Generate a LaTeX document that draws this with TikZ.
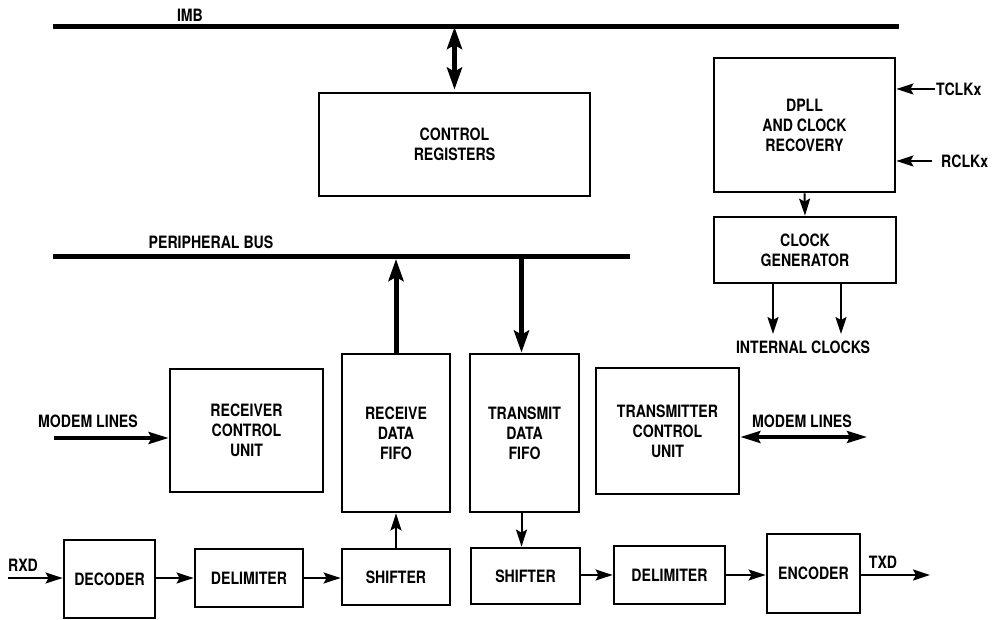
\documentclass[tikz,border=0pt]{standalone}
\usepackage{fontspec}
\setmainfont{TeX Gyre Heros}[FakeStretch=0.83]
\usetikzlibrary{arrows.meta}
\begin{document}
\begin{tikzpicture}[x=1pt,y=-1pt,
  every node/.style={font=\fontsize{17}{20}\selectfont\bfseries, align=center},
  blk/.style={draw, line width=2.8pt, inner sep=0pt},
  lbl/.style={inner sep=1pt},
  bus/.style={line width=5pt},
  thinarr/.style={line width=2pt, -{Stealth[length=17pt,width=11pt,inset=3pt]}},
  midarr/.style={line width=3.5pt, -{Stealth[length=20pt,width=12pt,inset=3pt]}},
  dblarr/.style={line width=3.5pt, {Stealth[length=20pt,width=12pt,inset=3pt]}-{Stealth[length=20pt,width=12pt,inset=3pt]}},
  thickarr/.style={line width=5pt, -{Stealth[length=22pt,width=15pt,inset=4pt]}},
  thickdbl/.style={line width=5pt, {Stealth[length=22pt,width=15pt,inset=4pt]}-{Stealth[length=22pt,width=15pt,inset=4pt]}}
]
\useasboundingbox (0,0) rectangle (996,620);

% buses
\coordinate (imbL) at (53,27);
\coordinate (imbR) at (899,27);
\coordinate (pbL) at (53,257);
\coordinate (pbR) at (630,257);
\draw[bus] (imbL) -- (imbR);
\draw[bus] (pbL) -- (pbR);
\node[lbl] (imb) at (190,15) {IMB};
\node[lbl] (pbus) at (211,242) {PERIPHERAL BUS};

% boxes
\node[blk, minimum width=271, minimum height=103] (cr) at (454.5,144.5) {CONTROL\\REGISTERS};
\node[blk, minimum width=181, minimum height=134] (dpll) at (804.5,125) {DPLL\\AND CLOCK\\RECOVERY};
\node[blk, minimum width=182, minimum height=66] (cg) at (805,250) {CLOCK\\GENERATOR};
\node[blk, minimum width=153, minimum height=123] (rcu) at (246.5,430.5) {RECEIVER\\CONTROL\\UNIT};
\node[blk, minimum width=108, minimum height=158] (rfifo) at (396,433) {RECEIVE\\DATA\\FIFO};
\node[blk, minimum width=109, minimum height=158] (tfifo) at (524.5,433) {TRANSMIT\\DATA\\FIFO};
\node[blk, minimum width=143, minimum height=126] (tcu) at (667.5,431) {TRANSMITTER\\CONTROL\\UNIT};
\node[blk, minimum width=91, minimum height=78] (dec) at (109.5,579) {DECODER};
\node[blk, minimum width=108, minimum height=58] (del1) at (249,578) {DELIMITER};
\node[blk, minimum width=108, minimum height=56] (sh1) at (396,577) {SHIFTER};
\node[blk, minimum width=109, minimum height=56] (sh2) at (525.5,576) {SHIFTER};
\node[blk, minimum width=111, minimum height=58] (del2) at (669.5,575) {DELIMITER};
\node[blk, minimum width=93, minimum height=79] (enc) at (813.5,573.5) {ENCODER};

% bus connections
\draw[thickdbl, shorten <=2pt] (cr.north) -- (cr.north |- imbL);
\draw[thickarr, shorten >=2pt] (rfifo.north) -- (rfifo.north |- pbL);
\draw[thickarr, shorten <=2pt] ([xshift=-3]tfifo.north |- pbL) -- ([xshift=-3]tfifo.north);

% clock section
\node[lbl, anchor=west] (tclk) at (935,89) {TCLKx};
\node[lbl, anchor=west] (rclk) at (940,161) {RCLKx};
\draw[thinarr] (tclk.west) -- (tclk.west -| dpll.east);
\draw[thinarr] ([xshift=-8]rclk.west) -- (rclk.west -| dpll.east);
\draw[thinarr] (dpll.south) -- (cg.north);
\node[lbl] (iclk) at (803,347) {INTERNAL CLOCKS};
\coordinate (ic1) at (773,334);
\coordinate (ic2) at (841,334);
\draw[thinarr] (ic1 |- cg.south) -- (ic1);
\draw[thinarr] (ic2 |- cg.south) -- (ic2);

% modem lines
\node[lbl] (mlL) at (88,421) {MODEM LINES};
\node[lbl] (mlR) at (802,421) {MODEM LINES};
\coordinate (mlLs) at (54,438);
\coordinate (mlRe) at (867,437);
\draw[midarr] (mlLs) -- (mlLs -| rcu.west);
\draw[dblarr] (mlRe -| tcu.east) -- (mlRe);

% data path
\node[lbl] (rxd) at (23,565) {RXD};
\node[lbl] (txd) at (883,562) {TXD};
\coordinate (rxs) at (8,578);
\coordinate (txe) at (930,575);
\draw[thinarr] (rxs) -- (rxs -| dec.west);
\draw[thinarr] (dec.east |- del1.east) -- (del1.west);
\draw[thinarr] (del1.east) -- (del1.east -| sh1.west);
\draw[thinarr] (sh1.north) -- (rfifo.south);
\draw[thinarr] ([xshift=-3]tfifo.south) -- ([xshift=-3]tfifo.south |- sh2.north);
\draw[thinarr] (sh2.east |- del2.east) -- (del2.west);
\draw[thinarr] (del2.east) -- (del2.east -| enc.west);
\draw[thinarr] (enc.east |- txe) -- (txe);
\end{tikzpicture}
\end{document}
